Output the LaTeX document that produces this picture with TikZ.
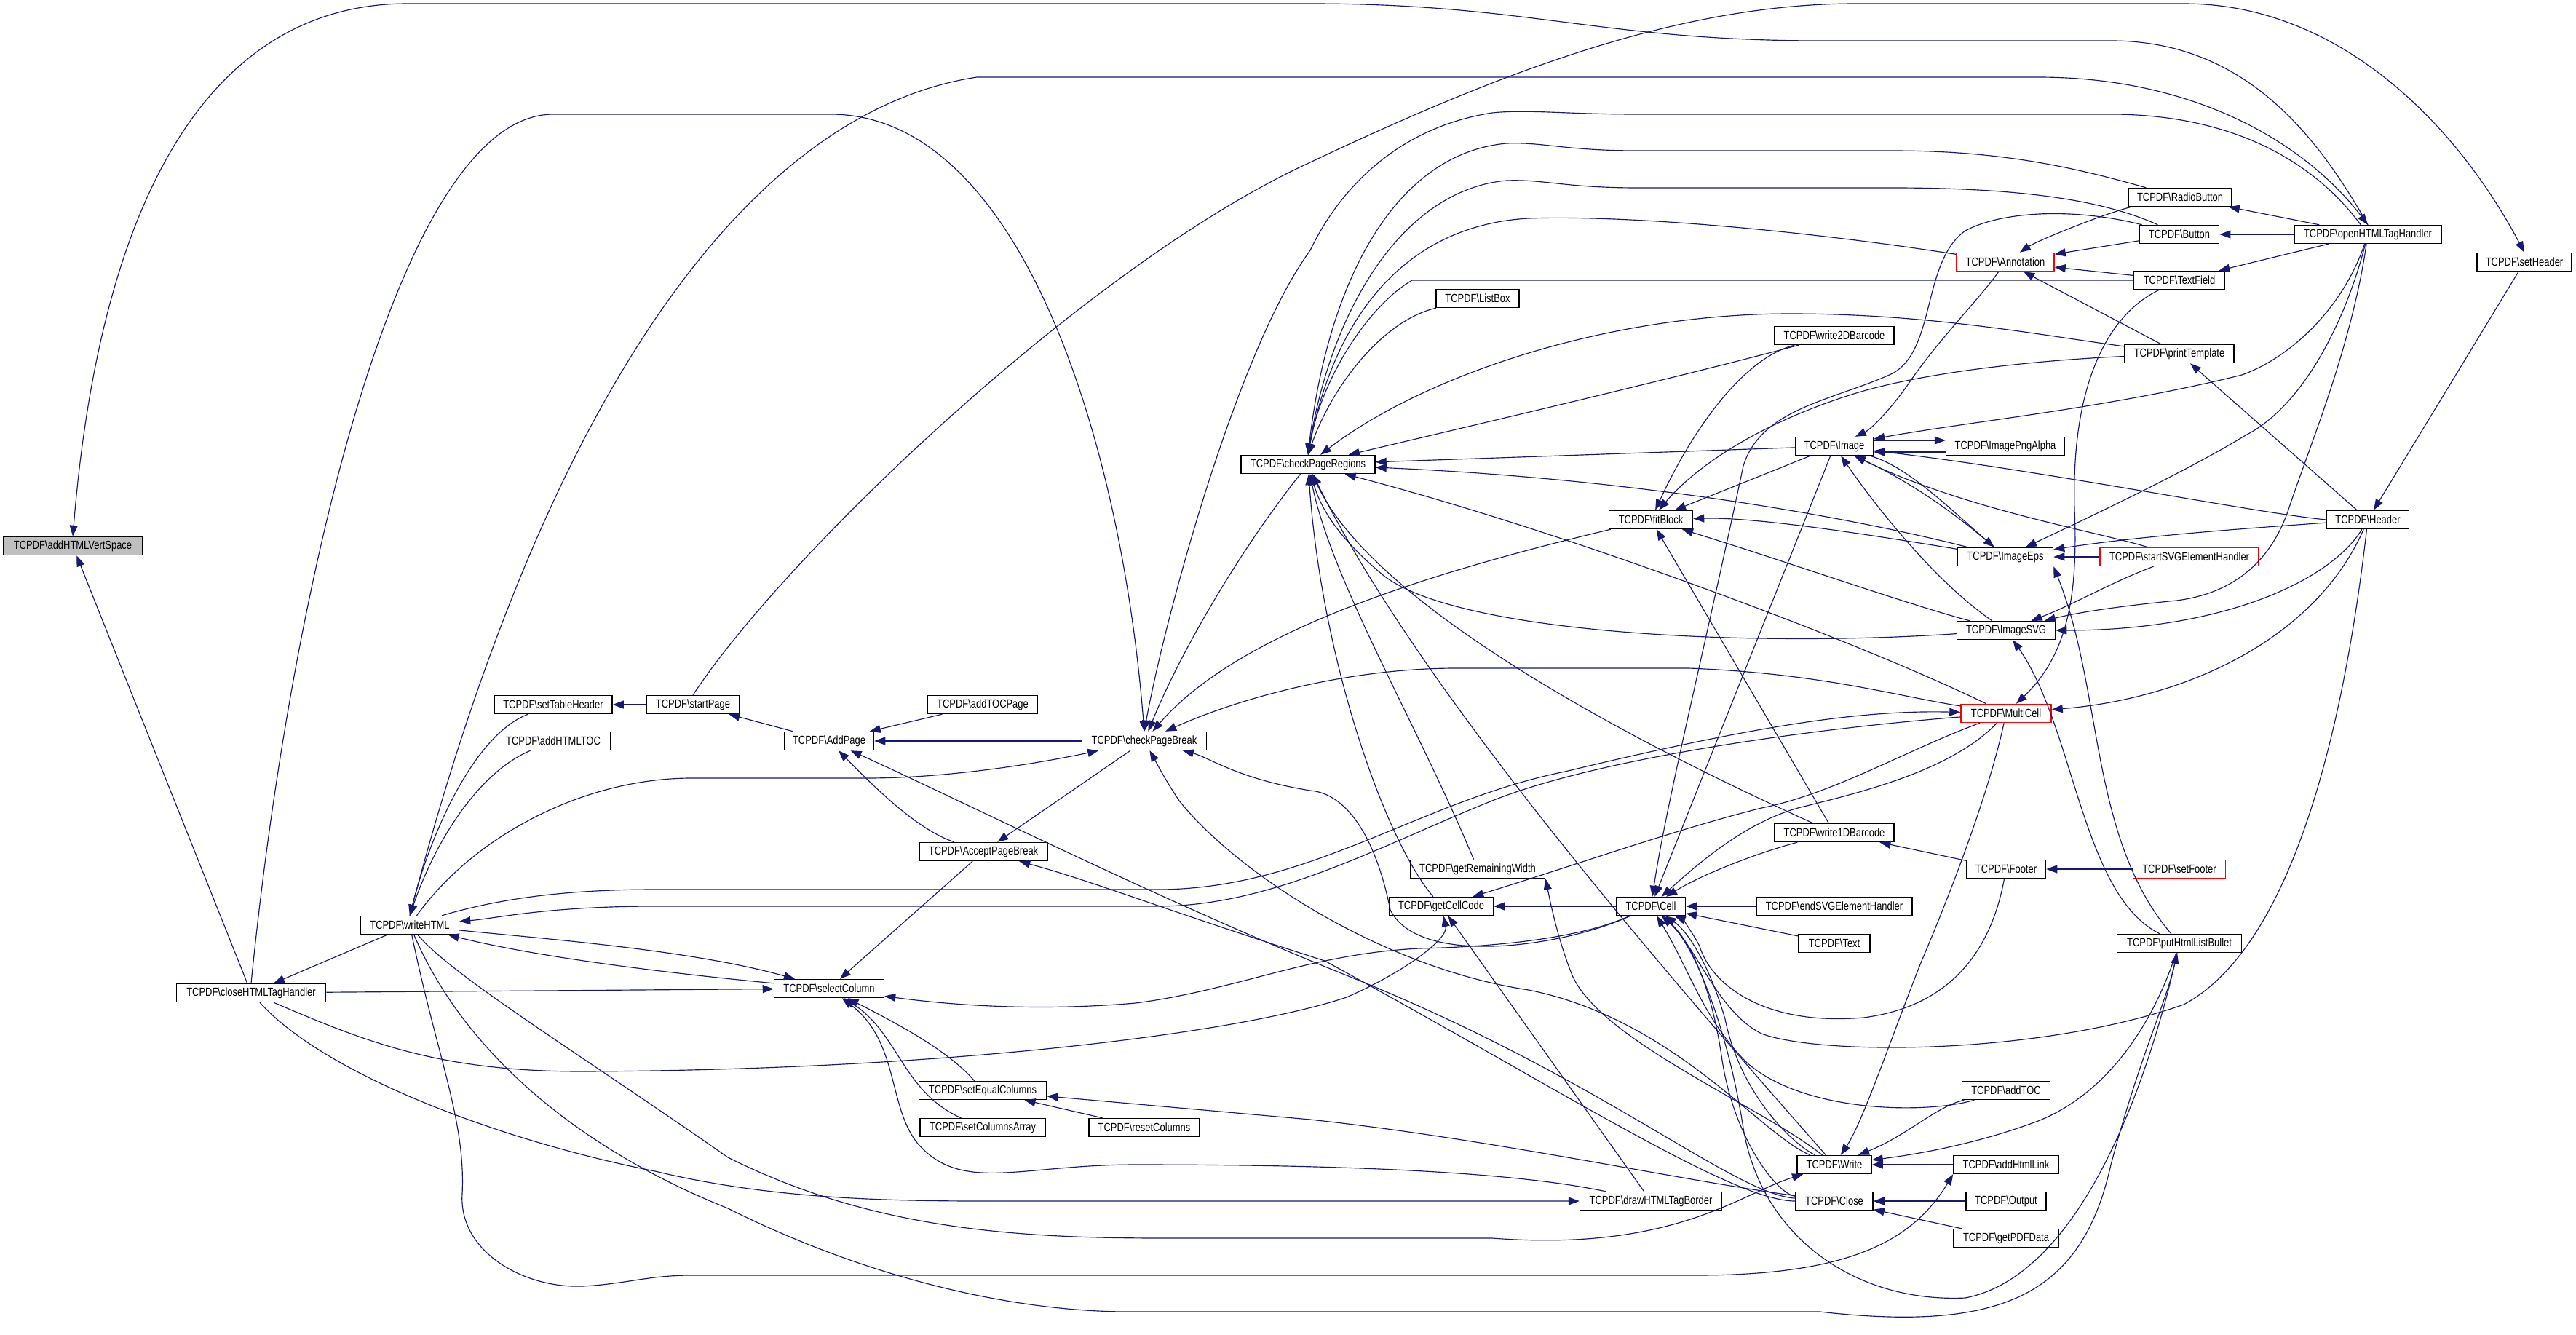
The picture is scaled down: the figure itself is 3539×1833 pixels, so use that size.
\documentclass[tikz,border=0pt]{standalone}
\usepackage{fontspec}
\newfontfamily\nfont{Liberation Sans}[FakeStretch=0.8]
\usetikzlibrary{arrows.meta}
\definecolor{edgeblue}{HTML}{191970}
\begin{document}
\begin{tikzpicture}[x=0.01cm,y=-0.01cm,
  fn/.style={draw=black, line width=0.4pt, fill=white, minimum height=0.25cm, inner sep=0pt, font=\nfont\fontsize{4.6pt}{5pt}\selectfont},
  rn/.style={fn, draw=red},
  e/.style={draw=edgeblue, line width=0.33pt, -{Triangle[length=0.15cm,width=0.11cm]}}]
\useasboundingbox[fill=white] (0,0) rectangle (3539,1833);
% nodes
\node[fn, fill=black!25, minimum width=1.91cm] (vert) at (100,750) {TCPDF\textbackslash addHTMLVertSpace};
\node[fn, minimum width=2.05cm] (close) at (345,1364) {TCPDF\textbackslash closeHTMLTagHandler};
\node[fn, minimum width=1.35cm] (wh) at (563,1271) {TCPDF\textbackslash writeHTML};
\node[fn, minimum width=1.62cm] (sth) at (760,968) {TCPDF\textbackslash setTableHeader};
\node[fn, minimum width=1.57cm] (ahtoc) at (760,1018) {TCPDF\textbackslash addHTMLTOC};
\node[fn, minimum width=1.27cm] (sp) at (952,968) {TCPDF\textbackslash startPage};
\node[fn, minimum width=1.23cm] (ap) at (1139,1018) {TCPDF\textbackslash AddPage};
\node[fn, minimum width=1.51cm] (atp) at (1350,968) {TCPDF\textbackslash addTOCPage};
\node[fn, minimum width=1.71cm] (cpb) at (1572,1018) {TCPDF\textbackslash checkPageBreak};
\node[fn, minimum width=1.76cm] (apb) at (1351,1170) {TCPDF\textbackslash AcceptPageBreak};
\node[fn, minimum width=1.51cm] (sc) at (1139,1358) {TCPDF\textbackslash selectColumn};
\node[fn, minimum width=1.75cm] (sec) at (1350,1498) {TCPDF\textbackslash setEqualColumns};
\node[fn, minimum width=1.72cm] (sca) at (1350,1549) {TCPDF\textbackslash setColumnsArray};
\node[fn, minimum width=1.52cm] (rc) at (1572,1549) {TCPDF\textbackslash resetColumns};
\node[fn, minimum width=1.84cm] (cpr) at (1797,638) {TCPDF\textbackslash checkPageRegions};
\node[fn, minimum width=1.14cm] (lb) at (2030,410) {TCPDF\textbackslash ListBox};
\node[fn, minimum width=1.64cm] (w2d) at (2520,461) {TCPDF\textbackslash write2DBarcode};
\node[fn, minimum width=1.07cm] (img) at (2520,613) {TCPDF\textbackslash Image};
\node[fn, minimum width=1.63cm] (ipa) at (2755,613) {TCPDF\textbackslash ImagePngAlpha};
\node[fn, minimum width=1.15cm] (fb) at (2268,714) {TCPDF\textbackslash fitBlock};
\node[fn, minimum width=1.85cm] (grw) at (2030,1194) {TCPDF\textbackslash getRemainingWidth};
\node[fn, minimum width=1.43cm] (gcc) at (1980,1245) {TCPDF\textbackslash getCellCode};
\node[fn, minimum width=0.95cm] (cell) at (2268,1245) {TCPDF\textbackslash Cell};
\node[fn, minimum width=2.14cm] (esvg) at (2520,1245) {TCPDF\textbackslash endSVGElementHandler};
\node[fn, minimum width=1.64cm] (w1d) at (2520,1144) {TCPDF\textbackslash write1DBarcode};
\node[fn, minimum width=0.98cm] (txt) at (2520,1296) {TCPDF\textbackslash Text};
\node[fn, minimum width=1.02cm] (wr) at (2520,1600) {TCPDF\textbackslash Write};
\node[fn, minimum width=1.06cm] (cl) at (2520,1650) {TCPDF\textbackslash Close};
\node[fn, minimum width=1.95cm] (dhb) at (2268,1650) {TCPDF\textbackslash drawHTMLTagBorder};
\node[rn, minimum width=1.34cm] (ann) at (2755,360) {TCPDF\textbackslash Annotation};
\node[fn, minimum width=1.42cm] (rb) at (2995,271) {TCPDF\textbackslash RadioButton};
\node[fn, minimum width=1.09cm] (btn) at (2994,322) {TCPDF\textbackslash Button};
\node[fn, minimum width=2.02cm] (ohth) at (3253,322) {TCPDF\textbackslash openHTMLTagHandler};
\node[fn, minimum width=1.25cm] (tf) at (2994,385) {TCPDF\textbackslash TextField};
\node[fn, minimum width=1.30cm] (sh) at (3468,360) {TCPDF\textbackslash setHeader};
\node[fn, minimum width=1.50cm] (pt) at (2994,486) {TCPDF\textbackslash printTemplate};
\node[fn, minimum width=1.13cm] (hdr) at (3253,714) {TCPDF\textbackslash Header};
\node[fn, minimum width=1.31cm] (eps) at (2755,765) {TCPDF\textbackslash ImageEps};
\node[rn, minimum width=2.18cm] (ssvg) at (2994,765) {TCPDF\textbackslash startSVGElementHandler};
\node[fn, minimum width=1.35cm] (svg) at (2756,866) {TCPDF\textbackslash ImageSVG};
\node[rn, minimum width=1.24cm] (mc) at (2756,980) {TCPDF\textbackslash MultiCell};
\node[fn, minimum width=1.09cm] (ft) at (2756,1194) {TCPDF\textbackslash Footer};
\node[rn, minimum width=1.27cm] (sf) at (2994,1194) {TCPDF\textbackslash setFooter};
\node[fn, minimum width=1.71cm] (phlb) at (2994,1296) {TCPDF\textbackslash putHtmlListBullet};
\node[fn, minimum width=1.21cm] (atoc) at (2756,1498) {TCPDF\textbackslash addTOC};
\node[fn, minimum width=1.44cm] (ahl) at (2756,1600) {TCPDF\textbackslash addHtmlLink};
\node[fn, minimum width=1.10cm] (out) at (2756,1650) {TCPDF\textbackslash Output};
\node[fn, minimum width=1.44cm] (gpd) at (2756,1701) {TCPDF\textbackslash getPDFData};
% long arcs
\draw[e] (ohth.north) .. controls (3180,180) and (3080,56) .. (2900,56) -- (2500,56) .. controls (2200,56) and (2100,5) .. (1800,5) -- (560,5) .. controls (300,5) and (140,250) .. (vert.north);
\draw[e] (close) -- (vert);
\draw[e] (sp.north) .. controls (1080,760) and (1500,360) .. (1800,223) .. controls (2050,105) and (2300,5) .. (2550,5) -- (3000,5) .. controls (3220,5) and (3380,180) .. (sh.north);
\draw[e] (wh.north) .. controls (760,500) and (1050,150) .. (1342,106) -- (2800,106) .. controls (3020,106) and (3170,200) .. (ohth.north);
\draw[e] (close.north) .. controls (400,800) and (550,157) .. (760,157) -- (1141,157) .. controls (1400,157) and (1540,600) .. (cpb.north);
% left
\draw[e] (sth) .. controls (650,1010) and (590,1150) .. (wh.north);
\draw[e] (ahtoc) .. controls (660,1060) and (600,1150) .. (wh.north);
\draw[e] (sp) -- (sth);
\draw[e] (ap) -- (sp);
\draw[e] (cpb) -- (ap);
\draw[e] (atp) -- (ap);
\draw[e] (apb) .. controls (1260,1140) and (1200,1080) .. (ap);
\draw[e] (cpb) -- (apb);
\draw[e] (wh) -- (close);
\draw[e] (wh) .. controls (650,1150) and (800,1069) .. (950,1069) -- (1190,1069) .. controls (1300,1069) and (1420,1050) .. (cpb);
\draw[e] (wh) .. controls (700,1230) and (800,1222) .. (900,1222) -- (1590,1222) .. controls (1800,1222) and (1950,1100) .. (2150,1060) .. controls (2400,1000) and (2550,975) .. (mc);
\draw[e] (mc) .. controls (2500,1000) and (2200,1040) .. (2050,1100) .. controls (1900,1160) and (1750,1245) .. (1590,1245) -- (900,1245) .. controls (750,1245) and (680,1262) .. (wh);
\draw[e] (wh) .. controls (750,1290) and (950,1305) .. (sc);
\draw[e] (sc) .. controls (950,1340) and (750,1318) .. (wh);
\draw[e] (close) -- (sc);
\draw[e] (close) .. controls (500,1430) and (600,1472) .. (800,1472) .. controls (1300,1470) and (1700,1420) .. (1850,1370) .. controls (1930,1335) and (1990,1290) .. (gcc);
\draw[e] (close) .. controls (450,1480) and (700,1570) .. (900,1609) .. controls (1050,1645) and (1200,1650) .. (1350,1650) -- (dhb);
\draw[e] (wh) .. controls (600,1450) and (640,1540) .. (635,1640) .. controls (630,1720) and (720,1770) .. (800,1767) .. controls (860,1764) and (890,1752) .. (950,1752) -- (2330,1752) .. controls (2550,1752) and (2630,1700) .. (ahl.south west);
\draw[e] (wh) .. controls (620,1340) and (800,1450) .. (1000,1590) .. controls (1200,1690) and (1400,1701) .. (1600,1701) -- (2050,1701) .. controls (2300,1720) and (2390,1640) .. (wr);
\draw[e] (wh) .. controls (640,1450) and (800,1580) .. (1000,1660) .. controls (1200,1760) and (1400,1802) .. (1550,1802) -- (2500,1802) .. controls (2750,1830) and (2860,1780) .. (2900,1600) .. controls (2940,1450) and (2975,1380) .. (phlb);
% selectColumn
\draw[e] (apb) -- (sc);
\draw[e] (sec) .. controls (1300,1440) and (1220,1400) .. (sc);
\draw[e] (sca) .. controls (1240,1500) and (1235,1420) .. (sc);
\draw[e] (dhb) .. controls (2080,1610) and (1850,1600) .. (1560,1600) .. controls (1400,1600) and (1320,1640) .. (1260,1570) .. controls (1220,1520) and (1235,1430) .. (sc);
\draw[e] (rc) -- (sec);
\draw[e] (cl) .. controls (2300,1620) and (2050,1565) .. (1800,1538) -- (sec);
\draw[e] (cl) .. controls (2380,1640) and (2200,1480) .. (1850,1340) .. controls (1600,1240) and (1300,1090) .. (ap);
\draw[e] (cl) .. controls (2380,1650) and (2150,1500) .. (1820,1320) .. controls (1600,1250) and (1500,1210) .. (apb);
\draw[e] (wr) .. controls (2420,1560) and (2300,1400) .. (2100,1360) .. controls (1900,1330) and (1700,1200) .. (1620,1100) .. controls (1600,1070) and (1590,1050) .. (cpb);
\draw[e] (cell) .. controls (2180,1285) and (2080,1300) .. (1950,1303) .. controls (1800,1310) and (1700,1360) .. (1560,1378) .. controls (1420,1390) and (1300,1380) .. (sc);
\draw[e] (cell) .. controls (2150,1300) and (1950,1330) .. (1910,1250) .. controls (1890,1150) and (1850,1090) .. (1800,1086) .. controls (1700,1070) and (1660,1040) .. (cpb);
% checkPageBreak / checkPageRegions
\draw[e] (cpr) .. controls (1700,760) and (1620,900) .. (cpb);
\draw[e] (fb) .. controls (1950,790) and (1700,870) .. (cpb);
\draw[e] (mc) .. controls (2600,955) and (2500,925) .. (2320,918) -- (2000,918) .. controls (1850,918) and (1700,960) .. (cpb);
\draw[e] (ohth) .. controls (3170,210) and (3050,157) .. (2900,157) -- (2250,157) .. controls (2150,157) and (2100,150) .. (2050,155) .. controls (1920,175) and (1840,260) .. (1800,344) .. controls (1700,480) and (1600,850) .. (cpb.north);
\draw[e] (rb) .. controls (2850,230) and (2750,207) .. (2600,207) -- (2250,207) .. controls (2150,207) and (2120,195) .. (2070,197) .. controls (1920,210) and (1825,380) .. (cpr.north);
\draw[e] (btn) .. controls (2900,280) and (2800,258) .. (2600,258) -- (2250,258) .. controls (2150,258) and (2120,246) .. (2070,248) .. controls (1930,260) and (1830,420) .. (cpr.north);
\draw[e] (ann) .. controls (2500,320) and (2250,295) .. (2100,300) .. controls (1920,310) and (1830,450) .. (cpr.north);
\draw[e] (tf) -- (1940,385) .. controls (1880,420) and (1815,520) .. (cpr.north);
\draw[e] (lb) .. controls (1900,440) and (1830,530) .. (cpr.north);
\draw[e] (pt) .. controls (2800,460) and (2650,431) .. (2460,431) .. controls (2200,431) and (1950,520) .. (cpr);
\draw[e] (w2d) .. controls (2300,520) and (2000,590) .. (cpr);
\draw[e] (img) -- (cpr);
\draw[e] (eps) .. controls (2600,725) and (2300,660) .. (cpr);
\draw[e] (mc) .. controls (2550,880) and (2150,730) .. (cpr);
\draw[e] (svg) .. controls (2400,890) and (2000,870) .. (1900,790) .. controls (1840,740) and (1815,700) .. (cpr);
\draw[e] (w1d) .. controls (2200,1000) and (1880,820) .. (cpr);
\draw[e] (grw) .. controls (1950,1000) and (1830,800) .. (cpr);
\draw[e] (gcc) .. controls (1900,1150) and (1815,900) .. (cpr);
\draw[e] (wr) .. controls (2300,1350) and (1950,950) .. (cpr);
% Cell
\draw[e] (cell) -- (gcc);
\draw[e] (esvg) -- (cell);
\draw[e] (txt) -- (cell);
\draw[e] (w1d) .. controls (2420,1170) and (2340,1200) .. (cell);
\draw[e] (img) -- (cell);
\draw[e] (btn) .. controls (2850,285) and (2750,290) .. (2700,317) .. controls (2640,360) and (2660,480) .. (2600,513) .. controls (2520,550) and (2420,560) .. (2395,640) .. controls (2340,900) and (2290,1100) .. (cell);
\draw[e] (hdr) .. controls (3220,1000) and (3150,1300) .. (3000,1380) .. controls (2800,1450) and (2500,1450) .. (2420,1420) .. controls (2360,1390) and (2330,1300) .. (cell);
\draw[e] (mc) .. controls (2680,1060) and (2550,1090) .. (2470,1110) .. controls (2400,1130) and (2340,1180) .. (cell);
\draw[e] (ft) .. controls (2740,1280) and (2700,1380) .. (2560,1398) .. controls (2420,1410) and (2350,1350) .. (2335,1300) .. controls (2325,1280) and (2310,1262) .. (cell);
\draw[e] (atoc) .. controls (2650,1530) and (2480,1530) .. (2400,1460) .. controls (2340,1400) and (2320,1330) .. (cell);
\draw[e] (wr) .. controls (2460,1570) and (2390,1500) .. (2370,1400) .. controls (2350,1330) and (2320,1280) .. (cell);
\draw[e] (cl) .. controls (2440,1640) and (2380,1560) .. (2365,1450) .. controls (2350,1350) and (2320,1290) .. (cell);
\draw[e] (phlb) .. controls (2960,1450) and (2870,1750) .. (2700,1783) .. controls (2550,1790) and (2420,1700) .. (2395,1550) .. controls (2375,1420) and (2330,1300) .. (cell);
% Write etc
\draw[e] (phlb) .. controls (2960,1400) and (2900,1500) .. (2800,1540) .. controls (2720,1570) and (2640,1585) .. (wr);
\draw[e] (ahl) -- (wr);
\draw[e] (atoc) .. controls (2660,1520) and (2620,1560) .. (wr);
\draw[e] (mc) .. controls (2730,1100) and (2670,1250) .. (2640,1320) .. controls (2600,1420) and (2560,1540) .. (wr);
\draw[e] (wr) .. controls (2420,1520) and (2200,1430) .. (2160,1340) .. controls (2140,1290) and (2130,1240) .. (grw.south east);
\draw[e] (dhb) -- (gcc);
\draw[e] (mc) .. controls (2620,1030) and (2520,1090) .. (2420,1110) .. controls (2300,1140) and (2160,1190) .. (gcc);
\draw[e] (out) -- (cl);
\draw[e] (gpd) -- (cl);
% Footer / Header
\draw[e] (sf) -- (ft);
\draw[e] (ft) -- (w1d);
\draw[e] (sh) -- (hdr);
\draw[e] (hdr) -- (pt);
\draw[e] (hdr.west) .. controls (3100,705) and (2800,645) .. (img);
\draw[e] (hdr) .. controls (3100,725) and (2950,735) .. (eps);
\draw[e] (hdr) .. controls (3200,800) and (3050,866) .. (svg);
\draw[e] (hdr) .. controls (3180,880) and (3000,960) .. (mc);
\draw[e] (ssvg) -- (eps);
\draw[e] (ssvg) .. controls (2900,800) and (2850,830) .. (svg);
\draw[e] (ssvg) .. controls (2880,730) and (2700,700) .. (img);
\draw[e] (tf) .. controls (2900,430) and (2845,520) .. (2850,700) .. controls (2855,820) and (2840,900) .. (mc);
% openHTMLTagHandler
\draw[e] (ohth) -- (rb);
\draw[e] (ohth) -- (btn);
\draw[e] (ohth) -- (tf);
\draw[e] (ohth) .. controls (3220,420) and (3150,490) .. (3080,515) .. controls (2900,560) and (2700,580) .. (img);
\draw[e] (ohth) .. controls (3220,450) and (3160,560) .. (3085,598) .. controls (3000,650) and (2850,720) .. (eps);
\draw[e] (ohth) .. controls (3230,480) and (3170,620) .. (3144,700) .. controls (3120,770) and (3070,815) .. (2990,825) .. controls (2920,832) and (2860,840) .. (svg);
% Annotation / Image
\draw[e] (rb) .. controls (2900,290) and (2800,330) .. (ann);
\draw[e] (btn) -- (ann);
\draw[e] (tf) -- (ann);
\draw[e] (pt) -- (ann);
\draw[e] (ann) .. controls (2720,410) and (2660,470) .. (2620,530) .. controls (2595,565) and (2570,590) .. (img);
\draw[e] ([yshift=0.08cm]img.east) -- ([yshift=0.08cm]ipa.west);
\draw[e] ([yshift=-0.08cm]ipa.west) -- ([yshift=-0.08cm]img.east);
\draw[e] (img) -- (fb);
\draw[e] (pt) .. controls (2800,495) and (2650,510) .. (2550,540) .. controls (2420,580) and (2330,640) .. (fb);
\draw[e] (w2d) .. controls (2400,490) and (2330,580) .. (fb);
\draw[e] (eps) .. controls (2600,740) and (2420,710) .. (fb);
\draw[e] (svg) .. controls (2620,830) and (2450,770) .. (fb);
\draw[e] (w1d) -- (fb);
\draw[e] (eps) .. controls (2680,700) and (2620,660) .. (img);
\draw[e] (svg) .. controls (2660,800) and (2580,700) .. (img);
\draw[e] (img) .. controls (2620,640) and (2680,700) .. (eps);
\draw[e] (phlb) .. controls (2870,1150) and (2890,950) .. (eps.south east);
\draw[e] (phlb) .. controls (2860,1230) and (2850,1000) .. (svg);
\end{tikzpicture}
\end{document}
